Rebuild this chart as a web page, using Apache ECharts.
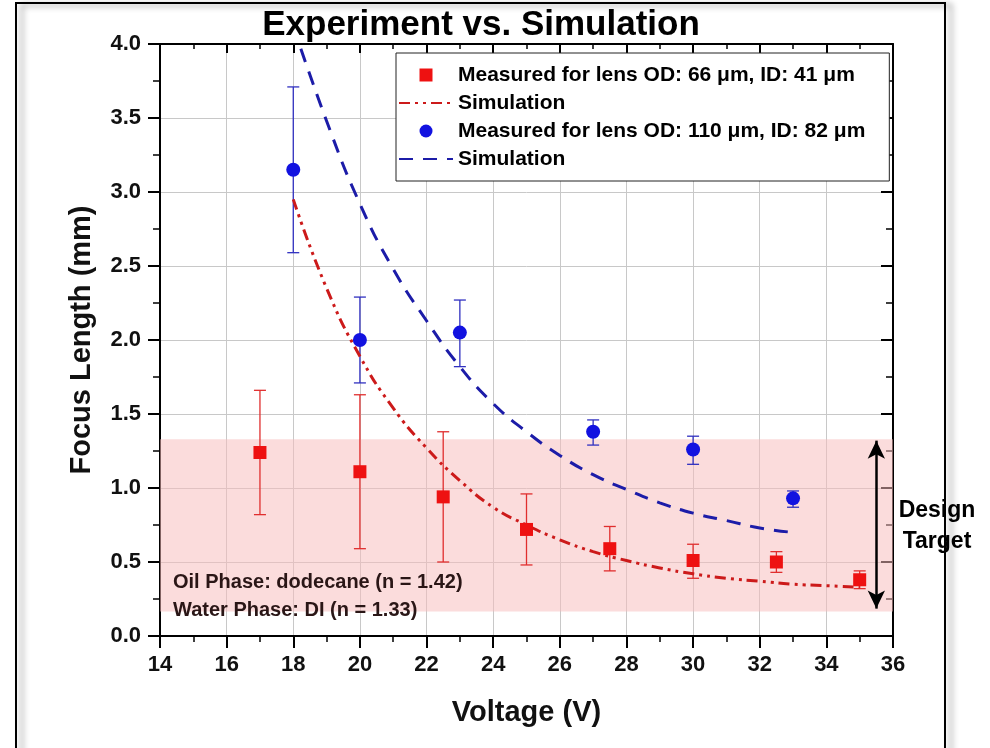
<!DOCTYPE html>
<html>
<head>
<meta charset="utf-8">
<script src="https://cdn.jsdelivr.net/npm/echarts@6/dist/echarts.min.js"></script>
<style>
  html, body {margin: 0; padding: 0; background: #fff;}
  #chart {width: 990px; height: 748px;}
</style>
</head>
<body>
<div id="chart"></div>
<script>
// measured, lens OD 66 um / ID 41 um
const smallV = [17, 20, 22.5, 25, 27.5, 30, 32.5, 35];
const smallFocus = [1.24, 1.11, 0.94, 0.72, 0.59, 0.51, 0.50, 0.38];
const smallLow = [0.82, 0.59, 0.50, 0.48, 0.44, 0.39, 0.43, 0.32];
const smallHigh = [1.66, 1.63, 1.38, 0.96, 0.74, 0.62, 0.57, 0.44];

// measured, lens OD 110 um / ID 82 um
const largeV = [18, 20, 23, 27, 30, 33];
const largeFocus = [3.15, 2.00, 2.05, 1.38, 1.26, 0.93];
const largeLow = [2.59, 1.71, 1.82, 1.29, 1.16, 0.87];
const largeHigh = [3.71, 2.29, 2.27, 1.46, 1.35, 0.98];

// simulation curves
const simSmallV = [18, 19, 20, 21, 22, 23, 24, 25, 26, 27, 28, 29, 30, 31, 32, 33, 34, 35];
const simSmallFocus = [2.95, 2.35, 1.89, 1.54, 1.27, 1.05, 0.87, 0.75, 0.65, 0.57, 0.51, 0.46, 0.42, 0.39, 0.37, 0.35, 0.34, 0.33];
const simLargeV = [18, 19, 20, 21, 22, 23, 24, 25, 26, 27, 28, 29, 30, 31, 32, 33];
const simLargeFocus = [4.12, 3.48, 2.92, 2.48, 2.13, 1.82, 1.57, 1.38, 1.22, 1.09, 0.99, 0.90, 0.83, 0.78, 0.73, 0.70];

// design target band
const targetLow = 0.165;
const targetHigh = 1.33;
const arrowV = 35.5;

const legendNames = [
  "Measured for lens OD: 66 μm, ID: 41 μm",
  "Simulation ",
  "Measured for lens OD: 110 μm, ID: 82 μm",
  "Simulation",
];

const FONT = "Liberation Sans";
const zip = (xs, ys) => xs.map((x, i) => [x, ys[i]]);
const zip3 = (xs, lo, hi) => xs.map((x, i) => [x, lo[i], hi[i]]);

function errorBars(color, cap) {
  return function(params, api) {
    const top = api.coord([api.value(0), api.value(2)]);
    const bot = api.coord([api.value(0), api.value(1)]);
    const style = {stroke: color, lineWidth: 1.3};
    return {
      type: "group",
      children: [
        {type: "line", shape: {x1: top[0], y1: top[1], x2: bot[0], y2: bot[1]}, style},
        {type: "line", shape: {x1: top[0] - cap, y1: top[1], x2: top[0] + cap, y2: top[1]}, style},
        {type: "line", shape: {x1: bot[0] - cap, y1: bot[1], x2: bot[0] + cap, y2: bot[1]}, style},
      ],
    };
  };
}

const chart = echarts.init(document.getElementById("chart"));

const axisText = {fontFamily: FONT, fontWeight: "bold", fontSize: 22, color: "#111"};
const nameText = {fontFamily: FONT, fontWeight: "bold", fontSize: 29, color: "#111"};

const option = {
  animation: false,
  backgroundColor: "#fff",
  title: {
    text: "Experiment vs. Simulation",
    left: 476,
    textAlign: "center",
    top: 3,
    textStyle: {fontFamily: FONT, fontWeight: "bold", fontSize: 35, color: "#000"},
  },
  grid: {left: 160, right: 97, top: 44, bottom: 112},
  legend: {
    orient: "vertical",
    left: 396,
    top: 53,
    padding: [11, 24, 11, 2],
    itemGap: 6,
    itemWidth: 54,
    itemHeight: 13,
    borderColor: "#222",
    borderWidth: 1,
    backgroundColor: "#fff",
    data: [
      {name: legendNames[0], icon: "path://M0,0h10v10h-10z"},
      {name: legendNames[1], itemStyle: {opacity: 0}},
      {name: legendNames[2]},
      {name: legendNames[3], itemStyle: {opacity: 0}},
    ],
    textStyle: {fontFamily: FONT, fontWeight: "bold", fontSize: 21, color: "#000", lineHeight: 22},
  },
  xAxis: [
    {
      type: "value",
      min: 14, max: 36, interval: 2,
      name: "Voltage (V)",
      nameLocation: "middle",
      nameGap: 62,
      nameTextStyle: nameText,
      axisLine: {show: true, onZero: false, lineStyle: {color: "#000", width: 2}},
      axisTick: {show: true, length: 12, lineStyle: {color: "#000", width: 2}},
      minorTick: {show: true, splitNumber: 2, length: 6, lineStyle: {color: "#000", width: 1.5}},
      axisLabel: {...axisText, margin: 18},
      splitLine: {show: true, lineStyle: {color: "#c8c8c8", width: 1}},
    },
    {
      type: "value",
      position: "top",
      min: 14, max: 36, interval: 2,
      axisLine: {show: true, onZero: false, lineStyle: {color: "#000", width: 2}},
      axisTick: {show: true, inside: true, length: 9, lineStyle: {color: "#000", width: 2}},
      minorTick: {show: true, splitNumber: 2, length: 5, lineStyle: {color: "#000", width: 1.5}},
      axisLabel: {show: false},
      splitLine: {show: false},
    },
  ],
  yAxis: [
    {
      type: "value",
      min: 0, max: 4, interval: 0.5,
      name: "Focus Length (mm)",
      nameLocation: "middle",
      nameGap: 64,
      nameTextStyle: nameText,
      axisLine: {show: true, onZero: false, lineStyle: {color: "#000", width: 2}},
      axisTick: {show: true, length: 12, lineStyle: {color: "#000", width: 2}},
      minorTick: {show: true, splitNumber: 2, length: 7, lineStyle: {color: "#000", width: 1.5}},
      axisLabel: {...axisText, margin: 19, formatter: (v) => v.toFixed(1)},
      splitLine: {show: true, lineStyle: {color: "#c8c8c8", width: 1}},
    },
    {
      type: "value",
      position: "right",
      min: 0, max: 4, interval: 0.5,
      axisLine: {show: true, onZero: false, lineStyle: {color: "#000", width: 2}},
      axisTick: {show: true, inside: true, length: 12, lineStyle: {color: "#000", width: 2}},
      minorTick: {show: true, splitNumber: 2, length: 7, lineStyle: {color: "#000", width: 1.5}},
      axisLabel: {show: false},
      splitLine: {show: false},
    },
  ],
  graphic: [
    {
      type: "rect",
      z: -10,
      silent: true,
      shape: {x: 16, y: 3, width: 929, height: 770},
      style: {fill: "none", stroke: "#000", lineWidth: 2,
        shadowBlur: 6, shadowOffsetX: 6, shadowOffsetY: 2, shadowColor: "rgba(0,0,0,0.45)"},
    },
    {
      type: "text",
      left: 173, top: 568,
      z: 100,
      style: {
        text: "Oil Phase: dodecane (n = 1.42)\nWater Phase: DI (n = 1.33)",
        font: "bold 20px 'Liberation Sans'",
        fill: "#2a1616",
        lineHeight: 28,
      },
    },
    {
      type: "text",
      x: 937, y: 495,
      z: 100,
      style: {
        text: "Design\nTarget",
        font: "bold 23px 'Liberation Sans'",
        fill: "#000",
        align: "center",
        lineHeight: 31,
      },
    },
  ],
  series: [
    {
      name: "target band",
      type: "line",
      data: [],
      z: 1,
      silent: true,
      markArea: {
        silent: true,
        itemStyle: {color: "rgba(248,188,188,0.52)"},
        data: [[{coord: [14, targetLow]}, {coord: [36, targetHigh]}]],
      },
      markLine: {
        silent: true,
        symbol: ["arrow", "arrow"],
        symbolSize: [13, 18],
        label: {show: false},
        lineStyle: {color: "#000", width: 2.5, type: "solid"},
        data: [[{coord: [arrowV, targetHigh - 0.01]}, {coord: [arrowV, targetLow + 0.02]}]],
      },
    },
    {
      name: "small error",
      type: "custom",
      z: 3,
      renderItem: errorBars("#e02e2e", 6),
      encode: {x: 0, y: [1, 2]},
      data: zip3(smallV, smallLow, smallHigh),
    },
    {
      name: "large error",
      type: "custom",
      z: 3,
      renderItem: errorBars("#3030c0", 6),
      encode: {x: 0, y: [1, 2]},
      data: zip3(largeV, largeLow, largeHigh),
    },
    {
      name: legendNames[1],
      type: "line",
      smooth: true,
      symbol: "none",
      z: 4,
      color: "#cc1a1a",
      lineStyle: {color: "#cc1a1a", width: 3, type: [11, 5, 3, 5, 3, 5]},
      data: zip(simSmallV, simSmallFocus),
    },
    {
      name: legendNames[3],
      type: "line",
      smooth: true,
      symbol: "none",
      z: 4,
      color: "#1c1ca8",
      lineStyle: {color: "#1c1ca8", width: 3, type: [14, 10]},
      data: zip(simLargeV, simLargeFocus),
    },
    {
      name: legendNames[0],
      type: "scatter",
      symbol: "rect",
      symbolSize: 13,
      z: 5,
      itemStyle: {color: "#ee1111", opacity: 1},
      data: zip(smallV, smallFocus),
    },
    {
      name: legendNames[2],
      type: "scatter",
      symbol: "circle",
      symbolSize: 14,
      z: 5,
      itemStyle: {color: "#1212e0", opacity: 1},
      data: zip(largeV, largeFocus),
    },
  ],
};

chart.setOption(option);
</script>
</body>
</html>
